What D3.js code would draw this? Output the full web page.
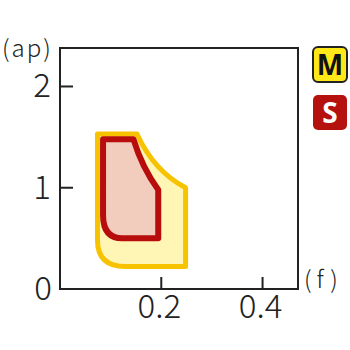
<!DOCTYPE html>
<html>
<head>
<meta charset="utf-8">
<script src="https://cdn.jsdelivr.net/npm/d3@7"></script>
<style>
  body { margin: 0; background: #fff; }
  svg { display: block; }
</style>
</head>
<body>
<div id="chart"></div>
<script>
// axis ticks
const xTicks = [0.2, 0.4];
const yTicks = [1, 2];
// outlines, [f, ap]; entries with c:true are bezier control points
const mShape = [
    [0.074, 1.53], [0.152, 1.53], { c: true, p: [0.186, 1.16] }, [0.248, 1.0],
    [0.248, 0.223], [0.129, 0.223], { c: true, p: [0.074, 0.223] }, [0.074, 0.485]
];
const sShape = [
    [0.085, 1.48], [0.145, 1.48], { c: true, p: [0.162, 1.2] }, [0.194, 0.98],
    [0.194, 0.50], [0.123, 0.50], { c: true, p: [0.085, 0.50] }, [0.085, 0.73]
];
const legend = [
    { label: 'M', fill: '#ffe81a', stroke: '#222', text: '#111' },
    { label: 'S', fill: '#b5120f', stroke: 'none', text: '#fff' }
];

const font = '"Noto Sans CJK JP", "Noto Sans", sans-serif';
const svg = d3.select('#chart').append('svg')
    .attr('width', 350)
    .attr('height', 350);

const x = d3.scaleLinear().domain([0, 0.47]).range([60, 298]);
const y = d3.scaleLinear().domain([0, 2.38]).range([289, 48]);

function outline(pts) {
    const p = d3.path();
    let ctrl = null;
    pts.forEach((d, i) => {
        if (d.c) { ctrl = d.p; return; }
        const px = x(d[0]), py = y(d[1]);
        if (i === 0) p.moveTo(px, py);
        else if (ctrl) { p.quadraticCurveTo(x(ctrl[0]), y(ctrl[1]), px, py); ctrl = null; }
        else p.lineTo(px, py);
    });
    p.closePath();
    return p.toString();
}

svg.append('path')
    .attr('d', outline(mShape))
    .attr('fill', '#fff5b5')
    .attr('stroke', '#f7c300')
    .attr('stroke-width', 5)
    .attr('stroke-linejoin', 'round');
svg.append('path')
    .attr('d', outline(sShape))
    .attr('fill', '#f2cdbd')
    .attr('stroke', '#b70d0d')
    .attr('stroke-width', 6)
    .attr('stroke-linejoin', 'round');

// frame
svg.append('rect')
    .attr('x', x(0))
    .attr('y', y(2.38))
    .attr('width', x(0.47) - x(0))
    .attr('height', y(0) - y(2.38))
    .attr('fill', 'none')
    .attr('stroke', '#222')
    .attr('stroke-width', 2);

function label(tx, ty, txt, size, anchor, spacing) {
    svg.append('text')
        .attr('x', tx)
        .attr('y', ty)
        .attr('text-anchor', anchor)
        .attr('fill', '#222')
        .style('font-family', font)
        .style('font-weight', 300)
        .style('font-size', size + 'px')
        .style('letter-spacing', (spacing || 0) + 'px')
        .text(txt);
}

xTicks.forEach(t => {
    svg.append('line')
        .attr('x1', x(t)).attr('x2', x(t))
        .attr('y1', y(0)).attr('y2', y(0) - 12)
        .attr('stroke', '#222').attr('stroke-width', 2);
    label(x(t) - 2, 318, t, 33, 'middle');
});
yTicks.forEach(t => {
    svg.append('line')
        .attr('x1', x(0)).attr('x2', x(0) + 13)
        .attr('y1', y(t)).attr('y2', y(t))
        .attr('stroke', '#222').attr('stroke-width', 2);
    label(51, y(t) + 11, t, 33, 'end');
});
label(52, y(0) + 11, '0', 33, 'end');

label(2, 57, '(ap)', 24, 'start', 2);
label(304, 288, '(f)', 24, 'start', 5);

// legend
const lg = svg.append('g').selectAll('g').data(legend).join('g')
    .attr('transform', (d, i) => `translate(313,${47 + i * 48})`);
lg.append('rect')
    .attr('width', 34).attr('height', 35).attr('rx', 5)
    .attr('fill', d => d.fill)
    .attr('stroke', d => d.stroke)
    .attr('stroke-width', 2);
lg.append('text')
    .attr('x', 17).attr('y', 28)
    .attr('text-anchor', 'middle')
    .attr('fill', d => d.text)
    .style('font-family', '"Noto Sans", sans-serif')
    .style('font-weight', 700)
    .style('font-size', '28px')
    .text(d => d.label);
</script>
</body>
</html>
